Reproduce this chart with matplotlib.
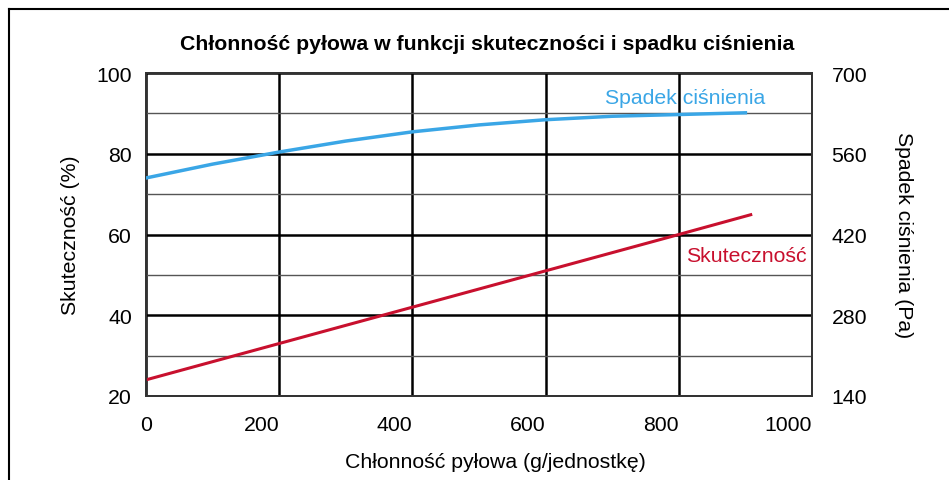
import matplotlib
matplotlib.use("Agg")
import matplotlib.pyplot as plt
from matplotlib.ticker import MultipleLocator
from matplotlib.lines import Line2D

plt.rcParams.update({"font.family": ["Liberation Sans", "DejaVu Sans"], "font.size": 15.3})

RED, BLUE = "#c8102e", "#3aa6e6"

# dust holding capacity (g/unit)
load_pressure = [0, 100, 200, 300, 400, 500, 600, 700, 800, 900]
pressure_pa = [518, 542, 563, 582, 598, 610, 619, 625, 628, 631]
load_eff = [0, 200, 400, 600, 800, 908]
efficiency = [24, 33, 42, 51, 60, 64.9]

x_ticks = [0, 200, 400, 600, 800, 1000]
left_ticks = [20, 40, 60, 80, 100]
right_ticks = [140, 280, 420, 560, 700]

fig = plt.figure(figsize=(9.49, 4.81), dpi=100)
ax = fig.add_axes([146/949, 1-397/481, 666/949, 323/481])
ax2 = ax.twinx()

ax.set_xlim(0, 1000); ax.set_ylim(20, 100)
ax2.set_ylim(140, 700)
ax.set_xticks(x_ticks); ax.set_yticks(left_ticks)
ax.yaxis.set_minor_locator(MultipleLocator(10))
ax2.set_yticks(right_ticks)

ax.grid(True, which="major", axis="both", color="black", linewidth=1.8)
ax.grid(True, which="minor", axis="y", color="#555555", linewidth=1.0)
ax.set_axisbelow(True)
ax.tick_params(which="both", length=0)
ax.tick_params(axis="y", pad=10)
ax.tick_params(axis="x", pad=14)
ax2.tick_params(length=0, pad=14)
for lbl in ax.get_xticklabels()[1:]:
    lbl.set_ha("right")
for a in (ax, ax2):
    for s in a.spines.values():
        s.set_color("#333333"); s.set_linewidth(1.3)

ax.plot(load_eff, efficiency, color=RED, linewidth=2.2, zorder=4)
ax2.plot(load_pressure, pressure_pa, color=BLUE, linewidth=2.5, zorder=4)

ax.text(746/949, 1-256/481, "Skuteczność", color=RED,
        transform=fig.transFigure, ha="center", va="center", zorder=5)
ax.text(685/949, 1-99/481, "Spadek ciśnienia", color=BLUE,
        transform=fig.transFigure, ha="center", va="center", zorder=5)

fig.text(487/949, 1-45/481, "Chłonność pyłowa w funkcji skuteczności i spadku ciśnienia",
         ha="center", va="center", fontsize=15.3, fontweight="bold")
fig.text(495/949, 1-463/481, "Chłonność pyłowa (g/jednostkę)", ha="center", va="center")
fig.text(70/949, 1-235/481, "Skuteczność (%)", ha="center", va="center", rotation=90)
fig.text(903/949, 1-235/481, "Spadek ciśnienia (Pa)", ha="center", va="center", rotation=-90)

# partial frame around the figure (top and left edges)
fig.add_artist(Line2D([9/949, 9/949], [0, 1-10/481], color="black", linewidth=1.5, transform=fig.transFigure))
fig.add_artist(Line2D([9/949, 1], [1-10/481, 1-10/481], color="black", linewidth=1.5, transform=fig.transFigure))

fig.savefig("out.png", dpi=100)
